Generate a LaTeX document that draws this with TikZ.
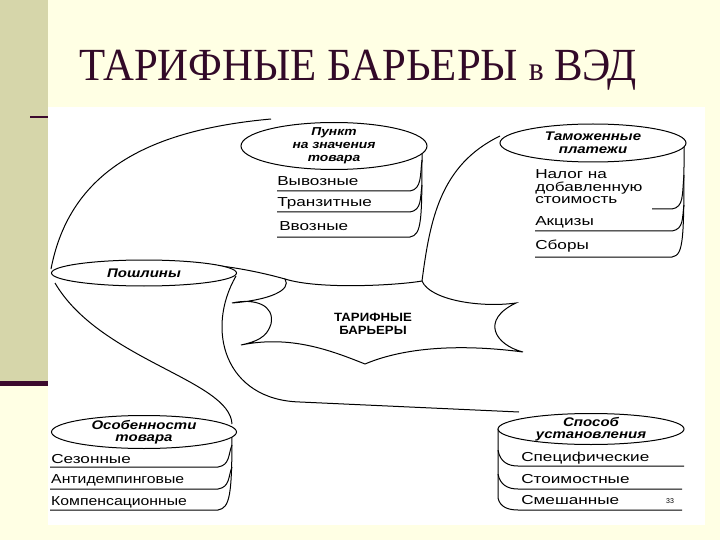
\documentclass[tikz,border=0pt]{standalone}
\usepackage{fontspec}
\usetikzlibrary{shapes.geometric}
\setmainfont{Liberation Serif}
\newfontfamily\lsans{Liberation Sans}
\definecolor{bgc}{RGB}{255,255,228}
\definecolor{strip}{RGB}{214,214,170}
\definecolor{plum}{RGB}{60,10,45}
\definecolor{ttl}{RGB}{50,10,40}
\begin{document}
\begin{tikzpicture}[x=1pt,y=-1pt,
  hdr/.style={font=\lsans\bfseries\itshape\fontsize{12.5}{12.5}\selectfont,align=center,xscale=1.2},
  row/.style={font=\lsans\fontsize{13}{12.5}\selectfont,anchor=west,inner sep=0,xscale=1.32,align=left},
  ln/.style={draw=black,line width=1pt},
  el/.style={draw=black,line width=1pt,fill=white,ellipse,inner sep=0}]
\useasboundingbox (0,0) rectangle (720,540);
\fill[bgc] (0,0) rectangle (720,540);
\fill[strip] (0,0) rectangle (48,385);
\fill[plum] (0,381) rectangle (48,386);
\draw[line width=1.5pt,plum] (30,117) -- (48,117);
\fill[white] (48,107) rectangle (705,525);
\node[font=\fontsize{46}{46}\selectfont,text=ttl,xscale=0.93] (title) at (358,70) {ТАРИФНЫЕ БАРЬЕРЫ {\fontsize{34}{34}\selectfont в} ВЭД};

% connectors
\begin{scope}[ln]
\draw (51,269) .. controls (70,170) and (150,130) .. (271,119);
\draw (200,264) .. controls (230,266) and (260,272) .. (285,279);
\draw (422,281) .. controls (430,220) and (440,165) .. (500,136);
\draw (236,276) .. controls (205,330) and (225,400) .. (300,402) -- (519,412);
\draw (55,283) .. controls (100,360) and (230,380) .. (232,424);
% star
\draw[fill=white] (232,303) .. controls (255,298) and (275,305) .. (271,324)
  .. controls (268,332) and (265,340) .. (241,345)
  .. controls (290,335) and (330,350) .. (365,364)
  .. controls (410,345) and (470,345) .. (523,352)
  .. controls (495,345) and (480,320) .. (516,303)
  .. controls (480,308) and (430,300) .. (422,281)
  .. controls (400,285) and (320,290) .. (285,279)
  .. controls (292,290) and (270,300) .. (232,303) -- cycle;
\end{scope}
\node[font=\lsans\bfseries\fontsize{12}{13}\selectfont,align=center,xscale=1.1] (tb) at (373,324) {ТАРИФНЫЕ\\БАРЬЕРЫ};

% cylinder 1
\draw[ln] (277,191) -- (410,191) .. controls (422,189) and (420,175) .. (422,160);
\draw[ln] (277,212) -- (410,212) .. controls (422,210) and (420,198) .. (422,185);
\draw[ln] (277,237) -- (410,237) .. controls (422,235) and (422,220) .. (422,146);
\node[el,minimum width=186,minimum height=47] (c1) at (334,146) {};
\node[hdr,font=\lsans\bfseries\itshape\fontsize{11.5}{13}\selectfont] at (c1) {Пункт\\на значения\\товара};
\node[row] at (277,181) {Вывозные};
\node[row] at (277,203) {Транзитные};
\node[row] at (279,226) {Ввозные};

% cylinder 2
\draw[ln] (652,209) -- (672,209) .. controls (684,207) and (682,195) .. (684,175);
\draw[ln] (535,231) -- (672,231) .. controls (684,229) and (682,218) .. (684,205);
\draw[ln] (535,257) -- (672,257) .. controls (684,255) and (684,240) .. (684,143);
\node[el,minimum width=186,minimum height=38] (c2) at (593,143) {};
\node[hdr] at (c2) {Таможенные\\платежи};
\node[row] at (535,187) {Налог на\\добавленную\\стоимость};
\node[row] at (535,222) {Акцизы};
\node[row] at (535,246) {Сборы};

% Пошлины
\node[el,minimum width=185,minimum height=26] (c3) at (144,273) {};
\node[hdr] at (c3) {Пошлины};

% cylinder 4
\draw[ln] (50,467) -- (218,467) .. controls (230,465) and (228,455) .. (232,445);
\draw[ln] (50,489) -- (218,489) .. controls (230,487) and (228,477) .. (232,467);
\draw[ln] (50,510) -- (218,510) .. controls (230,508) and (232,495) .. (232,432);
\node[el,minimum width=185,minimum height=33] (c4) at (144,432) {};
\node[hdr] at (c4) {Особенности\\товара};
\node[row] at (51,459) {Сезонные};
\node[row,xscale=0.92] at (51,480) {Антидемпинговые};
\node[row,xscale=0.92] at (51,502) {Компенсационные};

% cylinder 5
\draw[ln] (498,429) -- (498,450) .. controls (500,462) and (508,466) .. (518,466) -- (684,466);
\draw[ln] (498,450) -- (498,474) .. controls (500,485) and (508,489) .. (518,489) -- (682,489);
\draw[ln] (498,474) -- (498,498) .. controls (500,507) and (508,510) .. (518,510) -- (682,510);
\node[el,minimum width=186,minimum height=31] (c5) at (591,429) {};
\node[hdr] at (c5) {Способ\\установления};
\node[row] at (521,458) {Специфические};
\node[row] at (521,479) {Стоимостные};
\node[row] at (521,500) {Смешанные};
\node[font=\lsans\fontsize{7}{8}\selectfont] (pg) at (670,501) {33};
\end{tikzpicture}
\end{document}
